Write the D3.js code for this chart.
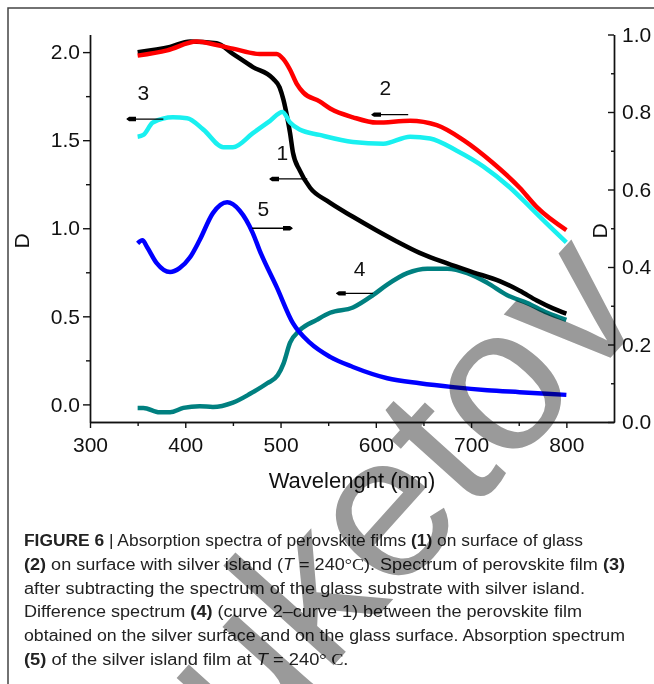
<!DOCTYPE html>
<html lang="en">
<head>
<meta charset="utf-8">
<title>Absorption spectra</title>
<style>
  body { margin: 0; background: #fff; }
  svg { display: block; }
  .axis text { font-family: "Liberation Sans", Arial, sans-serif; font-size: 21px; fill: #111; }
  .axis path, .axis line { stroke: #111; stroke-width: 1.4; }
  .caption { font-family: "Liberation Sans", Arial, sans-serif; font-size: 16px; fill: #222; }
</style>
</head>
<body>
<script src="https://cdnjs.cloudflare.com/ajax/libs/d3/7.8.5/d3.min.js"></script>
<script>
// curve 1 - film on glass (left axis)
const wl1 = [350, 384, 405, 433, 450, 471, 492, 499, 503, 507, 510, 513, 520, 531, 549, 576, 600, 622, 646, 675, 702, 730, 751, 769, 786, 800];
const d1  = [2.00, 2.03, 2.06, 2.05, 1.99, 1.915, 1.85, 1.80, 1.73, 1.63, 1.54, 1.43, 1.33, 1.23, 1.155, 1.065, 0.99, 0.925, 0.86, 0.80, 0.75, 0.70, 0.645, 0.59, 0.545, 0.515];
// curve 2 - film on silver islands
const wl2 = [350, 381, 412, 433, 450, 478, 496, 503, 510, 517, 524, 541, 552, 576, 601, 636, 664, 692, 723, 751, 769, 800];
const d2  = [1.98, 2.01, 2.06, 2.04, 2.02, 1.99, 1.99, 1.96, 1.90, 1.82, 1.77, 1.72, 1.68, 1.63, 1.60, 1.61, 1.585, 1.50, 1.37, 1.23, 1.12, 0.99];
// curve 3 - film minus substrate
const wl3 = [350, 356, 366, 387, 402, 419, 440, 450, 471, 489, 502, 510, 520, 541, 576, 608, 636, 657, 685, 713, 741, 762, 776, 800];
const d3v = [1.52, 1.53, 1.60, 1.63, 1.625, 1.56, 1.46, 1.46, 1.54, 1.61, 1.66, 1.60, 1.56, 1.53, 1.49, 1.48, 1.52, 1.51, 1.44, 1.35, 1.23, 1.12, 1.045, 0.92];
// curve 4 - difference spectrum
const wl4 = [350, 356, 373, 384, 398, 415, 429, 450, 468, 486, 497, 503, 510, 520, 538, 552, 576, 597, 612, 633, 654, 675, 696, 717, 738, 759, 780, 800];
const d4  = [-0.02, -0.02, -0.045, -0.045, -0.02, -0.01, -0.015, 0.01, 0.06, 0.12, 0.165, 0.23, 0.35, 0.42, 0.48, 0.52, 0.55, 0.62, 0.68, 0.745, 0.77, 0.77, 0.745, 0.69, 0.62, 0.575, 0.52, 0.48];
// curve 5 - silver island film (right axis)
const wl5 = [350, 355, 360, 370, 384, 394, 405, 415, 429, 444, 457, 471, 478, 496, 513, 531, 552, 576, 612, 646, 681, 717, 751, 800];
const d5  = [0.461, 0.469, 0.451, 0.41, 0.387, 0.397, 0.425, 0.469, 0.539, 0.567, 0.546, 0.487, 0.443, 0.348, 0.255, 0.204, 0.168, 0.142, 0.113, 0.10, 0.09, 0.082, 0.077, 0.07];

const xTicks = [300, 400, 500, 600, 700, 800];
const xMinor = [350, 450, 550, 650, 750];
const yLeftTicks = [0, 0.5, 1.0, 1.5, 2.0];
const yLeftMinor = [0.25, 0.75, 1.25, 1.75];
const yRightTicks = [0, 0.2, 0.4, 0.6, 0.8, 1.0];
const yRightMinor = [0.1, 0.3, 0.5, 0.7, 0.9];

// curve labels: number, label position, arrow from -> to (left axis units)
const labels = ["1", "2", "3", "4", "5"];
const labelNm = [502, 610, 356, 583, 482];
const labelD  = [1.43, 1.80, 1.77, 0.77, 1.11];
const arrowFrom = [528, 634, 377, 597, 470];
const arrowTo   = [489, 596, 339, 559, 512];
const arrowD    = [1.28, 1.645, 1.62, 0.63, 1.0];

const captionLines = [
  [["FIGURE 6", "b"], [" | ", ""], ["Absorption spectra of perovskite films ", ""], ["(1)", "b"], [" on surface of glass", ""]],
  [["(2)", "b"], [" on surface with silver island (", ""], ["T", "i"], [" = 240", ""], ["°C", "s"], ["). Spectrum of perovskite film ", ""], ["(3)", "b"]],
  [["after subtracting the spectrum of the glass substrate with silver island.", ""]],
  [["Difference spectrum ", ""], ["(4)", "b"], [" (curve 2–curve 1) between the perovskite film", ""]],
  [["obtained on the silver surface and on the glass surface. Absorption spectrum", ""]],
  [["(5)", "b"], [" of the silver island film at ", ""], ["T", "i"], [" = 240", ""], ["°", "s"], [" C.", "s"]]
];
const captionWidths = [559, 601, 561, 558, 601, 324];

const width = 654, height = 684;
const svg = d3.select("body").append("svg").attr("width", width).attr("height", height);
svg.append("rect").attr("width", width).attr("height", height).attr("fill", "#fff");

// frame
svg.append("path").attr("d", "M8,700V8H670").attr("fill", "none").attr("stroke", "#444").attr("stroke-width", 1.5);

const x = d3.scaleLinear().domain([300, 850]).range([90, 614]);
const yL = d3.scaleLinear().domain([-0.1, 2.1]).range([422, 34.5]);
const yR = d3.scaleLinear().domain([0, 1.0]).range([422, 34.5]);
const fmt = d3.format(".1f");

function styleAxis(g) {
  g.attr("class", "axis").attr("font-family", null).attr("font-size", null);
}

svg.append("g").attr("transform", "translate(0,422)")
  .call(d3.axisBottom(x).tickValues(xTicks).tickSize(6).tickSizeOuter(0).tickPadding(9))
  .call(styleAxis);
svg.append("g").attr("transform", "translate(0,422)")
  .call(d3.axisBottom(x).tickValues(xMinor).tickSize(4).tickSizeOuter(0).tickFormat(""))
  .call(styleAxis);
svg.append("g").attr("transform", "translate(90,0)")
  .call(d3.axisLeft(yL).tickValues(yLeftTicks).tickSize(7).tickSizeOuter(0).tickPadding(3).tickFormat(fmt))
  .call(styleAxis);
svg.append("g").attr("transform", "translate(90,0)")
  .call(d3.axisLeft(yL).tickValues(yLeftMinor).tickSize(4).tickSizeOuter(0).tickFormat(""))
  .call(styleAxis);
svg.append("g").attr("transform", "translate(614,0)")
  .call(d3.axisRight(yR).tickValues(yRightTicks).tickSize(-6).tickSizeOuter(0).tickPadding(8).tickFormat(fmt))
  .call(styleAxis);
svg.append("g").attr("transform", "translate(614,0)")
  .call(d3.axisRight(yR).tickValues(yRightMinor).tickSize(-3).tickSizeOuter(0).tickFormat(""))
  .call(styleAxis);

// axis titles
svg.append("text").attr("x", 352).attr("y", 488)
  .attr("text-anchor", "middle").style("font-family", "Liberation Sans, Arial, sans-serif")
  .style("font-size", "22px").attr("fill", "#111").text("Wavelenght (nm)");
svg.append("text").attr("transform", "translate(29,241) rotate(-90)")
  .attr("text-anchor", "middle").style("font-family", "Liberation Sans, Arial, sans-serif")
  .style("font-size", "21px").attr("fill", "#111").text("D");
svg.append("text").attr("transform", "translate(607,231) rotate(-90)")
  .attr("text-anchor", "middle").style("font-family", "Liberation Sans, Arial, sans-serif")
  .style("font-size", "21px").attr("fill", "#111").text("D");

// curves
const lineL = d3.line().x(d => x(d[0])).y(d => yL(d[1])).curve(d3.curveMonotoneX);
const lineR = d3.line().x(d => x(d[0])).y(d => yR(d[1])).curve(d3.curveMonotoneX);
const series = [
  { wl: wl4, v: d4, color: "#008080", line: lineL },
  { wl: wl1, v: d1, color: "#000000", line: lineL },
  { wl: wl2, v: d2, color: "#ff0000", line: lineL },
  { wl: wl3, v: d3v, color: "#19f0f0", line: lineL },
  { wl: wl5, v: d5, color: "#0000ff", line: lineR }
];
series.forEach(s => {
  svg.append("path")
    .datum(s.wl.map((w, i) => [w, s.v[i]]))
    .attr("d", s.line)
    .attr("fill", "none")
    .attr("stroke", s.color)
    .attr("stroke-width", 4.5)
    .attr("stroke-linejoin", "round");
});

// arrows and numbers
svg.append("defs").append("marker")
  .attr("id", "head").attr("viewBox", "0 -3 10 6").attr("refX", 9).attr("refY", 0)
  .attr("markerWidth", 10).attr("markerHeight", 6).attr("markerUnits", "userSpaceOnUse")
  .attr("orient", "auto")
  .append("path").attr("d", "M0,-2.2L7,-2.2L10,0L7,2.2L0,2.2Z").attr("fill", "#000");

labels.forEach((t, i) => {
  svg.append("line")
    .attr("x1", x(arrowFrom[i])).attr("y1", yL(arrowD[i]))
    .attr("x2", x(arrowTo[i])).attr("y2", yL(arrowD[i]))
    .attr("stroke", "#000").attr("stroke-width", 1.3)
    .attr("marker-end", "url(#head)");
  svg.append("text")
    .attr("x", x(labelNm[i])).attr("y", yL(labelD[i]))
    .attr("text-anchor", "middle").attr("dy", "0.36em")
    .style("font-family", "Liberation Sans, Arial, sans-serif").style("font-size", "21px")
    .attr("fill", "#111").text(t);
});

// caption
const capY = [546, 570, 594, 617, 641, 665];
captionLines.forEach((segs, li) => {
  const t = svg.append("text").attr("class", "caption")
    .attr("x", 24).attr("y", capY[li])
    .attr("textLength", captionWidths[li]).attr("lengthAdjust", "spacingAndGlyphs");
  segs.forEach(([str, st]) => {
    const sp = t.append("tspan").text(str);
    if (st === "b") sp.attr("font-weight", "bold");
    if (st === "i") sp.attr("font-style", "italic");
    if (st === "s") sp.attr("font-family", "Liberation Serif, serif");
  });
});

// watermark
svg.append("text")
  .attr("transform", "translate(172,845) rotate(-48)")
  .style("font-family", "Liberation Sans, Arial, sans-serif")
  .style("font-size", "205px")
  .style("mix-blend-mode", "multiply")
  .attr("fill", "#9a9a9a")
  .text("buketov");
</script>
</body>
</html>
